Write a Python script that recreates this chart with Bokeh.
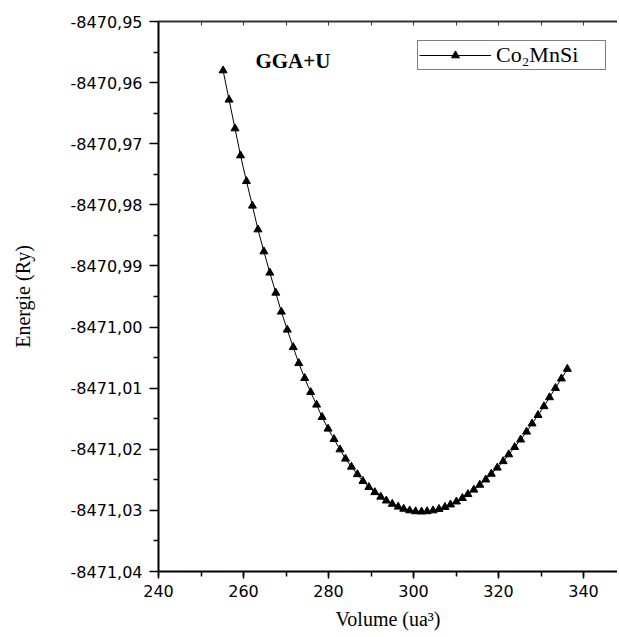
from bokeh.plotting import figure
from bokeh.models import (Range1d, LinearAxis, SingleIntervalTicker, FixedTicker,
                          CustomJSTickFormatter, Legend, LegendItem, Label)
from bokeh.embed import file_html
from bokeh.resources import INLINE

volume = [255.2, 256.6, 258.0, 259.3, 260.7, 262.1, 263.4, 264.8, 266.2, 267.6,
          268.9, 270.3, 271.7, 273.0, 274.4, 275.8, 277.2, 278.5, 279.9, 281.3,
          282.7, 284.0, 285.4, 286.8, 288.1, 289.5, 290.9, 292.3, 293.6, 295.0,
          296.4, 297.7, 299.1, 300.5, 301.9, 303.2, 304.6, 306.0, 307.4, 308.7,
          310.1, 311.5, 312.8, 314.2, 315.6, 317.0, 318.3, 319.7, 321.1, 322.4,
          323.8, 325.2, 326.6, 327.9, 329.3, 330.7, 332.0, 333.4, 334.8, 336.2]

energy = [-8470.95802, -8470.96281, -8470.96751, -8470.97193, -8470.97614,
          -8470.98016, -8470.98404, -8470.98764, -8470.99112, -8470.99440,
          -8470.99750, -8471.00045, -8471.00330, -8471.00592, -8471.00837,
          -8471.01066, -8471.01272, -8471.01474, -8471.01665, -8471.01835,
          -8471.02004, -8471.02156, -8471.02287, -8471.02410, -8471.02522,
          -8471.02621, -8471.02704, -8471.02778, -8471.02841, -8471.02895,
          -8471.02941, -8471.02976, -8471.03002, -8471.03017, -8471.03021,
          -8471.03016, -8471.03002, -8471.02979, -8471.02947, -8471.02906,
          -8471.02857, -8471.02800, -8471.02736, -8471.02663, -8471.02583,
          -8471.02497, -8471.02403, -8471.02303, -8471.02197, -8471.02085,
          -8471.01966, -8471.01843, -8471.01714, -8471.01580, -8471.01441,
          -8471.01298, -8471.01151, -8471.00999, -8471.00844, -8471.00686]

y_ticks = [-8471.04, -8471.03, -8471.02, -8471.01, -8471.00,
           -8470.99, -8470.98, -8470.97, -8470.96, -8470.95]
y_minor = [-8471.035, -8471.025, -8471.015, -8471.005,
           -8470.995, -8470.985, -8470.975, -8470.965, -8470.955]

series_name = "Co\u2082MnSi"
annotation = "GGA+U"

p = figure(width=617, height=635, output_backend="svg", toolbar_location=None,
           x_range=Range1d(240, 348.0), y_range=Range1d(-8471.04, -8470.95),
           min_border_left=158, min_border_right=0, min_border_top=21,
           min_border_bottom=64,
           x_axis_label="Volume (ua\u00b3)", y_axis_label="Energie (Ry)")
p.outline_line_color = None
p.grid.visible = False
p.background_fill_color = "white"

ln = p.line(volume, energy, line_color="black", line_width=1)
sc = p.scatter(volume, energy, marker="triangle", size=8,
               fill_color="black", line_color="black")

# x axis
xa = p.xaxis[0]
xa.ticker = SingleIntervalTicker(interval=20, num_minor_ticks=2)
xa.major_tick_out = 7
xa.major_tick_in = 0
xa.minor_tick_out = 5
xa.minor_tick_in = 0
xa.major_label_standoff = 6
xa.axis_label_standoff = 8

# y axis
ya = p.yaxis[0]
ya.ticker = FixedTicker(ticks=y_ticks, minor_ticks=y_minor)
ya.formatter = CustomJSTickFormatter(code="return tick.toFixed(2).replace('.', ',');")
ya.major_tick_out = 9
ya.major_tick_in = 0
ya.minor_tick_out = 5
ya.minor_tick_in = 0
ya.major_label_standoff = 7
ya.axis_label_standoff = 34

for ax in (xa, ya):
    ax.axis_line_width = 2
    ax.axis_line_color = "black"
    ax.major_tick_line_width = 1.5
    ax.minor_tick_line_width = 1.5
    ax.major_tick_line_color = "black"
    ax.minor_tick_line_color = "black"
    ax.major_label_text_font = "DejaVu Sans"
    ax.major_label_text_font_size = "16px"
    ax.major_label_text_color = "black"
    ax.axis_label_text_font = "Liberation Serif"
    ax.axis_label_text_font_size = "20px"
    ax.axis_label_text_font_style = "normal"
    ax.axis_label_text_color = "black"

top = LinearAxis(ticker=SingleIntervalTicker(interval=10, num_minor_ticks=0),
                 formatter=CustomJSTickFormatter(code="return '';"),
                 major_tick_in=4, major_tick_out=0, minor_tick_in=0, minor_tick_out=0,
                 axis_line_width=2, axis_line_color="#333333",
                 major_tick_line_color="#333333", major_tick_line_width=1,
                 major_label_standoff=0)
p.add_layout(top, "above")

p.add_layout(Label(x=262.8, y=-8470.9564, text=annotation,
                   text_font="Liberation Serif", text_font_style="bold",
                   text_font_size="21px", text_color="black",
                   text_baseline="alphabetic"))

legend = Legend(items=[LegendItem(label=series_name, renderers=[ln, sc])],
                location=(259, 501), padding=1, margin=0, spacing=0,
                glyph_width=72, glyph_height=20, label_height=20,
                label_width=108, label_standoff=5,
                label_text_font="Liberation Serif", label_text_font_size="22px",
                label_text_color="black",
                border_line_color="black", border_line_width=1,
                background_fill_color="white", background_fill_alpha=1)
p.add_layout(legend)

open("out.html", "w").write(file_html(p, INLINE))
